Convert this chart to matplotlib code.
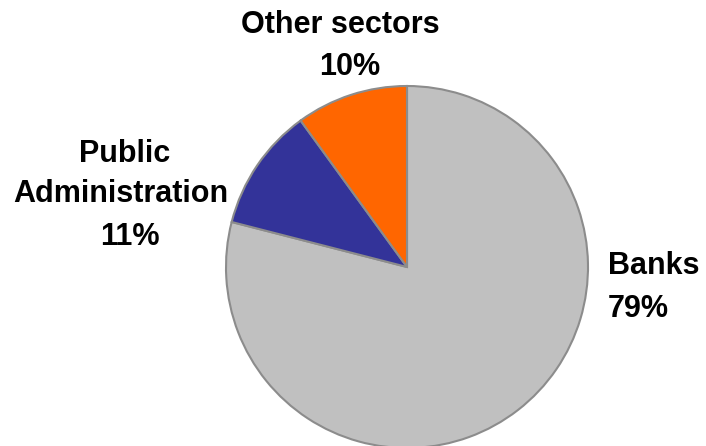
import matplotlib
matplotlib.use("Agg")
import matplotlib.pyplot as plt

sectors = ["Banks", "Public\nAdministration", "Other sectors"]
shares = [79, 11, 10]
colors = ["#C0C0C0", "#333399", "#FF6600"]

W, H = 706, 446
fig = plt.figure(figsize=(W / 100, H / 100), dpi=100)
ax = fig.add_axes([0, 0, 1, 1])

center = (407, H - 267)
radius = 181
ax.pie(shares, colors=colors, startangle=90, counterclock=False,
       center=center, radius=radius, frame=True,
       wedgeprops=dict(edgecolor="#8C8C8C", linewidth=1.5))
ax.set_xlim(0, W)
ax.set_ylim(0, H)
ax.set_aspect("equal")
ax.axis("off")

font = dict(family="Liberation Sans", fontsize=22, fontweight="bold", color="black")

# per-line label anchors (x, baseline y from top, alignment)
name_pos = [
    [(608, 274, "left")],
    [(125, 162, "center"), (121, 202, "center")],
    [(340, 33, "center")],
]
pct_pos = [(608, 317, "left"), (130, 245, "center"), (350, 75, "center")]

for name, val, lines_pos, (px, py, pha) in zip(sectors, shares, name_pos, pct_pos):
    for line, (nx, ny, ha) in zip(name.split("\n"), lines_pos):
        ax.text(nx, H - ny, line, ha=ha, va="baseline", **font)
    ax.text(px, H - py, f"{val}%", ha=pha, va="baseline", **font)

fig.savefig("out.png", dpi=100)
